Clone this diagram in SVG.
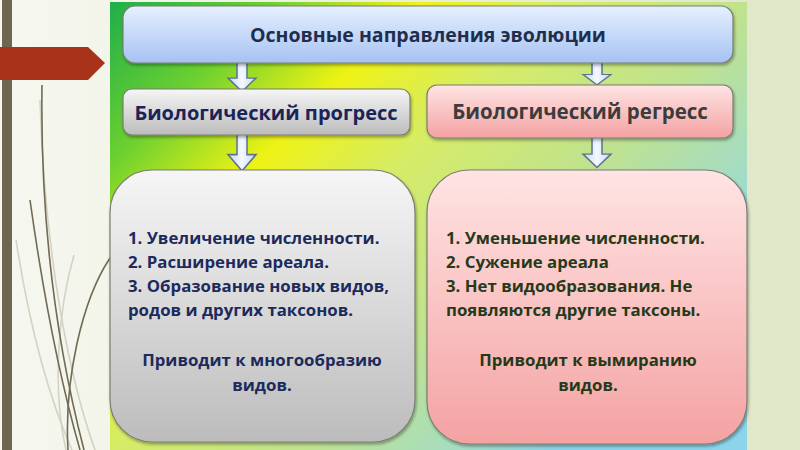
<svg xmlns="http://www.w3.org/2000/svg" width="800" height="450" viewBox="0 0 800 450">
<defs>
<linearGradient id="page" x1="0" y1="0" x2="1" y2="0">
<stop offset="0" stop-color="#f6f7f0"/><stop offset="1" stop-color="#e0e7c8"/>
</linearGradient>
<linearGradient id="panel" gradientUnits="userSpaceOnUse" x1="110" y1="2" x2="560" y2="452">
<stop offset="0" stop-color="#1fae4a"/><stop offset="0.18" stop-color="#6cd030"/>
<stop offset="0.34" stop-color="#eef214"/><stop offset="0.5" stop-color="#d6ec66"/>
<stop offset="0.72" stop-color="#bfe290"/><stop offset="0.9" stop-color="#a2dcc8"/>
<stop offset="1" stop-color="#8cd4ec"/>
</linearGradient>
<linearGradient id="blue" x1="0" y1="0" x2="0" y2="1">
<stop offset="0" stop-color="#e6f0ff"/><stop offset="1" stop-color="#a6c2f2"/>
</linearGradient>
<linearGradient id="gray" x1="0" y1="0" x2="0" y2="1">
<stop offset="0" stop-color="#f6f6f6"/><stop offset="1" stop-color="#bcbcbc"/>
</linearGradient>
<linearGradient id="pink" x1="0" y1="0" x2="0" y2="1">
<stop offset="0" stop-color="#ffe4e4"/><stop offset="1" stop-color="#f4a2a2"/>
</linearGradient>
<linearGradient id="arrowfill" x1="0" y1="0" x2="1" y2="0">
<stop offset="0" stop-color="#c8d8f0"/><stop offset="0.5" stop-color="#f4f8ff"/><stop offset="1" stop-color="#c8d8f0"/>
</linearGradient>
<filter id="sh" x="-5%" y="-5%" width="115%" height="120%">
<feDropShadow dx="1" dy="2" stdDeviation="1.5" flood-color="#000" flood-opacity="0.35"/>
</filter>
<path id="arr" d="M-5 0 H5 V18 H14 L0 32 L-14 18 H-5 Z"/>
</defs>
<style>
.box{stroke:#7a7e70;stroke-width:1.2;filter:url(#sh)}
.hd{font-family:"Open Sans","Noto Sans",sans-serif;font-weight:700;text-anchor:middle}
.bd{font-family:"Open Sans","Noto Sans",sans-serif;font-weight:700;font-size:16.8px}
.arrow{fill:url(#arrowfill);stroke:#5c7390;stroke-width:1.5;stroke-linejoin:miter}
.grass{fill:none;stroke:#726a52;stroke-width:1.6}
.grassl{fill:none;stroke:#d2d3c4;stroke-width:1.6}
</style>
<rect width="800" height="450" fill="url(#page)"/>
<g id="decor">
<path class="grassl" d="M40 100 C45 260 70 380 95 450"/>
<path class="grassl" d="M74 255 C58 310 52 390 66 450"/>
<path class="grassl" d="M16 240 C30 330 50 400 72 450"/>
<path class="grass" d="M42 85 C40 230 58 350 84 450"/>
<path class="grass" d="M30 200 C44 300 60 380 80 450"/>
<path class="grass" d="M110 258 C82 300 64 380 68 450"/>
<rect x="2" y="0" width="10" height="450" fill="#6e6650"/>
<path d="M0 47 H88 L105 63 L88 80 H0 Z" fill="#a8321a"/>
</g>
<rect x="110" y="2" width="637" height="448" fill="url(#panel)"/>
<g id="connectors">
<use href="#arr" class="arrow" transform="translate(242,61) scale(1,0.95)"/>
<use href="#arr" class="arrow" transform="translate(597,61) scale(1,0.75)"/>
<use href="#arr" class="arrow" transform="translate(242,134) scale(1,1.15)"/>
<use href="#arr" class="arrow" transform="translate(597,137) scale(1,0.95)"/>
</g>
<g id="top">
<rect class="box" x="123" y="6" width="610" height="57" rx="12" fill="url(#blue)"/>
<text class="hd" x="428" y="42" font-size="19.5" font-weight="600" fill="#1e2e4c">Основные направления эволюции</text>
</g>
<g id="progress">
<rect class="box" x="123" y="89" width="287" height="46" rx="9" fill="url(#gray)"/>
<text class="hd" x="266" y="120" font-size="20" fill="#1a2458">Биологический прогресс</text>
</g>
<g id="regress">
<rect class="box" x="427" y="85" width="306" height="53" rx="10" fill="url(#pink)"/>
<text class="hd" x="580" y="119" font-size="20.5" font-weight="600" fill="#3c3c3c">Биологический регресс</text>
</g>
<g id="progress-details">
<rect class="box" x="110" y="170" width="305" height="272" rx="42" fill="url(#gray)"/>
<g class="bd" fill="#1c2a5c">
<text x="128" y="244">1. Увеличение численности.</text>
<text x="128" y="268">2. Расширение ареала.</text>
<text x="128" y="292">3. Образование новых видов,</text>
<text x="128" y="316">родов и других таксонов.</text>
<text x="262" y="366" text-anchor="middle">Приводит к многообразию</text>
<text x="262" y="391" text-anchor="middle">видов.</text>
</g>
</g>
<g id="regress-details">
<rect class="box" x="427" y="170" width="320" height="274" rx="42" fill="url(#pink)"/>
<g class="bd" fill="#263a1a">
<text x="446" y="244">1. Уменьшение численности.</text>
<text x="446" y="268">2. Сужение ареала</text>
<text x="446" y="292">3. Нет видообразования. Не</text>
<text x="446" y="316">появляются другие таксоны.</text>
<text x="588" y="366" text-anchor="middle">Приводит к вымиранию</text>
<text x="588" y="391" text-anchor="middle">видов.</text>
</g>
</g>
</svg>
